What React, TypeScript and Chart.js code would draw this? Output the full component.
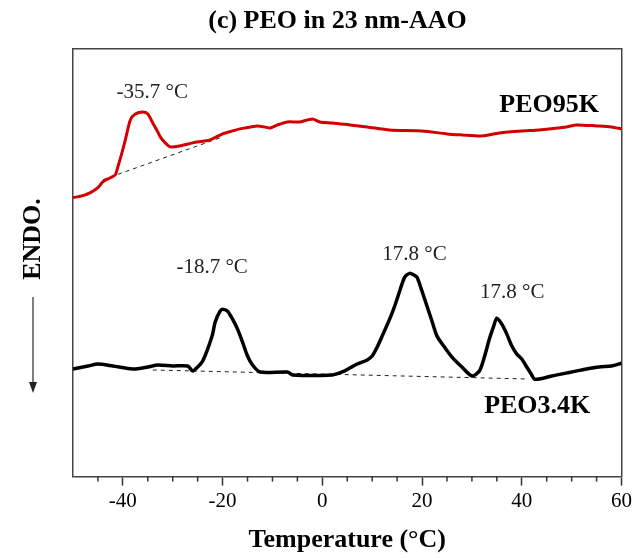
import React, { useEffect, useRef } from "react";
import { Chart, registerables } from "chart.js";

Chart.register(...registerables);

// PEO95K (red) trace: temperature (°C) and heat-flow signal (arbitrary units)
const t95K = [-50, -48, -46.5, -45, -44, -42.5, -41.5, -41, -40.3, -39.5, -38.5, -37.5, -36, -35, -34, -33, -32.5, -31.5, -30.5, -28.5, -26, -22.5, -20, -18, -16.5, -13, -10.5, -9, -7, -4.5, -2, -0.5, 2, 5.5, 9, 13.5, 20, 25, 28, 32, 35.5, 40, 43.5, 49, 51, 55, 58, 60];
const y95K = [280, 282, 285, 290, 296, 300, 303, 311, 323, 338, 358, 364, 366, 364, 355, 346, 341, 335, 331, 332, 335, 338, 344, 347, 349, 352, 350, 353, 356, 356, 359, 356, 355, 353, 351, 348, 347, 344, 343, 342, 345, 347, 348, 351, 353, 352, 351, 349];

// PEO3.4K (black) trace
const t34K = [-50, -47, -45, -42, -38, -35, -33, -30, -27, -26, -25, -24, -23, -22, -21.5, -20.5, -20, -19, -18, -17, -16, -15, -14, -12.5, -7, -6, 2, 4, 5.5, 7, 9, 10, 11, 12, 13.5, 14.5, 15.5, 16.5, 17.5, 18.5, 19, 20, 21, 22, 23, 24.5, 26, 28, 30, 31.5, 32.5, 33.5, 34.3, 35, 36, 37, 38, 39, 40, 41, 42, 42.5, 43.5, 46, 50, 53, 55.5, 58, 59.5, 60];
const y34K = [108, 111, 113, 111, 108, 110, 112, 111, 111, 106, 110, 116, 128, 143, 155, 166, 168, 166, 158, 148, 135, 121, 112, 105, 105, 102, 102, 105, 109, 113, 117, 121, 130, 141, 158, 171, 186, 200, 204, 202, 200, 186, 171, 156, 141, 130, 120, 110, 101, 106, 120, 138, 150, 159, 153, 143, 131, 123, 118, 110, 102, 98, 98, 101, 105, 108, 110, 111, 113, 114];

// Baselines (dashed)
const base95KT = [-44, -20];
const base95KY = [298, 341];
const base34KT = [-34, 41];
const base34KY = [107, 98];

// Annotations: text, temperature, signal
const noteTexts = ["-35.7 °C", "-18.7 °C", "17.8 °C", "17.8 °C"];
const noteT = [-34.1, -22.1, 18.5, 38.1];
const noteY = [386, 210, 223, 185];
const seriesNames = ["PEO95K", "PEO3.4K"];
const seriesNameT = [45.5, 43.1];
const seriesNameY = [373, 71];

const xMin = -50;
const xMax = 60;
const yMin = 0;
const yMax = 429;
const majorStep = 20;
const minorStep = 5;

const SERIF = "'Liberation Serif', 'DejaVu Serif', serif";

const toPts = (xs: number[], ys: number[]) => xs.map((x, i) => ({ x, y: ys[i] }));

export default function App() {
  const ref = useRef<HTMLCanvasElement | null>(null);

  useEffect(() => {
    if (!ref.current) return;

    const decor = {
      id: "decor",
      afterDraw(chart: any) {
        const ctx = chart.ctx;
        const xs = chart.scales.x;
        const ys = chart.scales.y;
        const area = chart.chartArea;
        ctx.save();
        // minor ticks
        ctx.strokeStyle = "#333";
        ctx.lineWidth = 1.5;
        xs.ticks.forEach((tk: any) => {
          const v = tk.value;
          if (v % majorStep === 0 || v === xMin || v === xMax) return;
          const px = xs.getPixelForValue(v);
          ctx.beginPath();
          ctx.moveTo(px, area.bottom);
          ctx.lineTo(px, area.bottom + 5);
          ctx.stroke();
        });
        // annotations
        ctx.fillStyle = "#222";
        ctx.textAlign = "center";
        ctx.textBaseline = "middle";
        ctx.font = `21px ${SERIF}`;
        noteTexts.forEach((t, i) => {
          ctx.fillText(t, xs.getPixelForValue(noteT[i]), ys.getPixelForValue(noteY[i]));
        });
        ctx.fillStyle = "#000";
        ctx.font = `bold 26px ${SERIF}`;
        seriesNames.forEach((t, i) => {
          ctx.fillText(t, xs.getPixelForValue(seriesNameT[i]), ys.getPixelForValue(seriesNameY[i]));
        });
        // ENDO. label with arrow
        ctx.save();
        ctx.translate(33, 239);
        ctx.rotate(-Math.PI / 2);
        ctx.font = `bold 26px ${SERIF}`;
        ctx.fillText("ENDO.", 0, 0);
        ctx.restore();
        ctx.strokeStyle = "#555";
        ctx.lineWidth = 1.5;
        ctx.beginPath();
        ctx.moveTo(33, 297);
        ctx.lineTo(33, 385);
        ctx.stroke();
        ctx.fillStyle = "#222";
        ctx.beginPath();
        ctx.moveTo(29, 382);
        ctx.lineTo(37, 382);
        ctx.lineTo(33, 393);
        ctx.closePath();
        ctx.fill();
        ctx.restore();
      },
    };

    const chart = new Chart(ref.current, {
      type: "line",
      data: {
        datasets: [
          {
            data: toPts(t95K, y95K),
            borderColor: "rgb(210,0,0)",
            borderWidth: 3,
            pointRadius: 0,
            tension: 0.25,
            order: 1,
          },
          {
            data: toPts(t34K, y34K),
            borderColor: "#000",
            borderWidth: 3.5,
            pointRadius: 0,
            tension: 0.25,
            order: 1,
          },
          {
            data: toPts(base95KT, base95KY),
            borderColor: "#222",
            borderWidth: 1,
            borderDash: [4, 4],
            pointRadius: 0,
            order: 2,
          },
          {
            data: toPts(base34KT, base34KY),
            borderColor: "#222",
            borderWidth: 1,
            borderDash: [4, 4],
            pointRadius: 0,
            order: 2,
          },
        ],
      },
      options: {
        responsive: false,
        animation: false,
        layout: { padding: { left: 40, right: 0, top: 0, bottom: 0 } },
        plugins: {
          legend: { display: false },
          tooltip: { enabled: false },
          title: {
            display: true,
            text: "(c) PEO in 23 nm-AAO",
            color: "#000",
            font: { family: SERIF, size: 26, weight: "bold" },
            padding: { top: 6, bottom: 12 },
          },
        },
        scales: {
          x: {
            type: "linear",
            position: "bottom",
            min: xMin,
            max: xMax,
            grid: {
              drawOnChartArea: false,
              tickLength: 9,
              tickWidth: 1.5,
              tickColor: (c: any) => (c.tick && c.tick.value % majorStep === 0 ? "#333" : "rgba(0,0,0,0)"),
            },
            border: { color: "#444", width: 1.5 },
            ticks: {
              stepSize: minorStep,
              autoSkip: false,
              maxRotation: 0,
              padding: 3,
              color: "#000",
              font: { family: SERIF, size: 21 },
              callback: (v: any) => (Number(v) % majorStep === 0 ? String(v) : ""),
            },
            title: {
              display: true,
              text: "Temperature (°C)",
              color: "#000",
              font: { family: SERIF, size: 26, weight: "bold" },
              padding: { top: 8, bottom: 2 },
            },
          },
          x2: {
            type: "linear",
            position: "top",
            min: xMin,
            max: xMax,
            grid: { drawOnChartArea: false, drawTicks: false },
            border: { color: "#444", width: 1.5 },
            ticks: { display: false },
          },
          y: {
            type: "linear",
            position: "left",
            min: yMin,
            max: yMax,
            grid: { drawOnChartArea: false, drawTicks: false },
            border: { color: "#444", width: 1.5 },
            ticks: { display: false },
            afterFit: (s: any) => {
              s.width = 33;
            },
          },
          y2: {
            type: "linear",
            position: "right",
            min: yMin,
            max: yMax,
            grid: { drawOnChartArea: false, drawTicks: false },
            border: { color: "#444", width: 1.5 },
            ticks: { display: false },
            afterFit: (s: any) => {
              s.width = 13;
            },
          },
        },
      },
      plugins: [decor],
    } as any);

    return () => chart.destroy();
  }, []);

  return (
    <div style={{ position: "absolute", left: 0, top: 0, width: 635, height: 558, background: "#fff" }}>
      <canvas ref={ref} width={635} height={558} style={{ display: "block" }} />
    </div>
  );
}
